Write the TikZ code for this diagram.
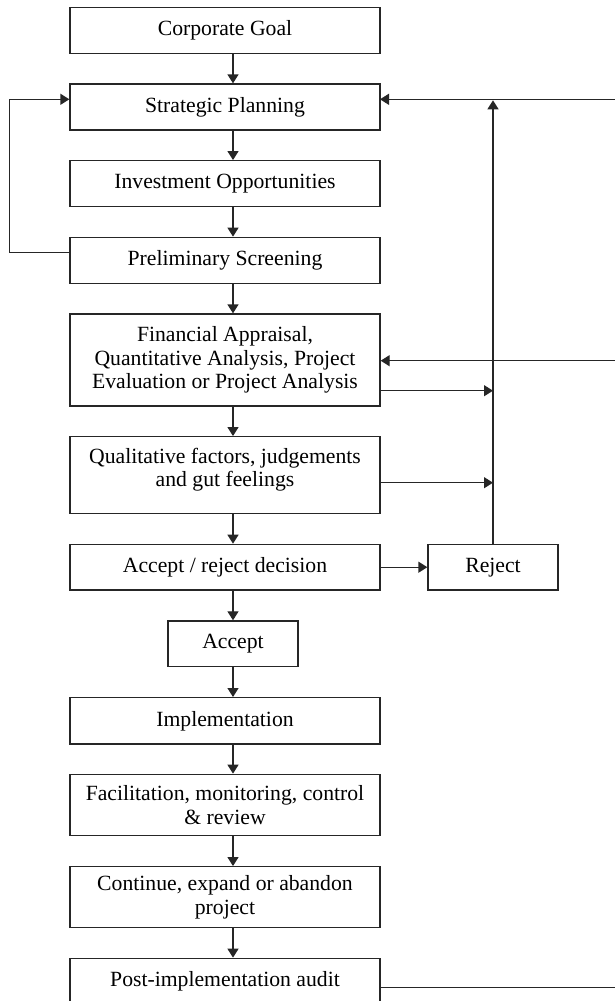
\documentclass[tikz,border=0pt]{standalone}
\usepackage{fontspec}
\setmainfont{Liberation Serif}
\usetikzlibrary{arrows.meta}
\tikzset{
  box/.style={draw=black!85, line width=1.3pt, inner sep=0pt, align=center,
    minimum width=310pt, font=\fontsize{21.7pt}{23.6pt}\selectfont},
  smallbox/.style={box, minimum width=130pt},
  arr/.style={line width=1.3pt, draw=black!85, -{Triangle[length=9pt,width=11pt]}},
  line/.style={line width=1.3pt, draw=black!85},
}
\begin{document}
\begin{tikzpicture}[x=1pt,y=-1pt]
\useasboundingbox (0,0) rectangle (615,1001);

% main column of process boxes
\node[box, minimum height=46pt] (corp) at (225,30.3) {Corporate Goal};
\node[box, minimum height=46pt] (strat) at (225,107) {Strategic Planning};
\node[box, minimum height=46pt] (invest) at (225,183.7) {Investment Opportunities};
\node[box, minimum height=46pt] (prelim) at (225,260.3) {Preliminary Screening};
\node[box, minimum height=92pt] (fin) at (225,360) {Financial Appraisal,\\Quantitative Analysis, Project\\Evaluation or Project Analysis};
\node[box, minimum height=76.6pt, text depth=15pt] (qual) at (225,475) {Qualitative factors, judgements\\and gut feelings};
\node[box, minimum height=45.7pt] (dec) at (225,567.2) {Accept / reject decision};
\node[smallbox, minimum height=45.7pt] (reject) at (493,567.2) {Reject};
\node[smallbox, minimum height=45.7pt] (accept) at (233,643.8) {Accept};
\node[box, minimum height=46.3pt] (impl) at (225,720.8) {Implementation};
\node[box, minimum height=61.4pt] (facil) at (225,805) {Facilitation, monitoring, control\\\& review};
\node[box, minimum height=60.6pt] (cont) at (225,897) {Continue, expand or abandon\\project};
\node[box, minimum height=46pt] (post) at (225,981.3) {Post-implementation audit};

% reference points for the connector routes
\coordinate (ax) at (233,0);
\coordinate (stratin) at (380,99.3);
\coordinate (edgetop) at (622,99.3);
\coordinate (edgefin) at (622,360.7);
\coordinate (edgepost) at (622,987.3);
\coordinate (leftx) at (9.4,0);

% downward flow
\draw[arr] (corp.south -| ax) -- (strat.north -| ax);
\draw[arr] (strat.south -| ax) -- (invest.north -| ax);
\draw[arr] (invest.south -| ax) -- (prelim.north -| ax);
\draw[arr] (prelim.south -| ax) -- (fin.north -| ax);
\draw[arr] (fin.south -| ax) -- (qual.north -| ax);
\draw[arr] (qual.south -| ax) -- (dec.north -| ax);
\draw[arr] (dec.south -| ax) -- (accept.north);
\draw[arr] (accept.south) -- (impl.north -| ax);
\draw[arr] (impl.south -| ax) -- (facil.north -| ax);
\draw[arr] (facil.south -| ax) -- (cont.north -| ax);
\draw[arr] (cont.south -| ax) -- (post.north -| ax);

% screening loop back to planning
\draw[arr] ([yshift=8pt]prelim.west) -| (leftx |- stratin) -- ([yshift=7.7pt]strat.west);

% reject path
\draw[arr] (dec.east) -- (reject.west);
\draw[arr] (reject.north) -- ([yshift=-1pt]reject.north |- stratin);
\draw[arr] (fin.east |- 0,390.7) -- (reject.north |- 0,390.7);
\draw[arr] (qual.east |- 0,482.7) -- (reject.north |- 0,482.7);

% lines entering from the right edge
\draw[arr] (edgetop) -- (stratin);
\draw[arr] (edgefin) -- (edgefin -| fin.east);
\draw[line] (edgepost -| post.east) -- (edgepost);
\end{tikzpicture}
\end{document}
